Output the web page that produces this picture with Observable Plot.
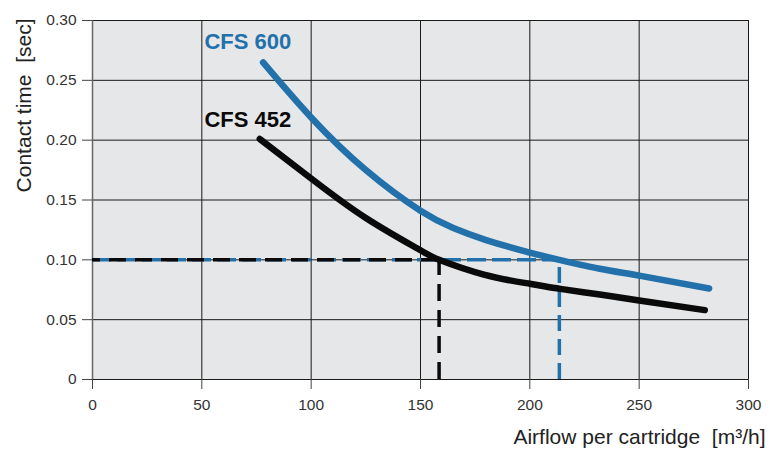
<!DOCTYPE html>
<html>
<head>
<meta charset="utf-8">
<script src="https://cdn.jsdelivr.net/npm/d3@7"></script>
<script src="https://cdn.jsdelivr.net/npm/@observablehq/plot@0.6"></script>
<style>
  html, body { margin: 0; padding: 0; background: #fff; }
  #chart { width: 770px; height: 449px; }
</style>
</head>
<body>
<div id="chart"></div>
<script>
// Tick values
const xTicks = [0, 50, 100, 150, 200, 250, 300];
const yTicks = [0, 0.05, 0.10, 0.15, 0.20, 0.25, 0.30];

// CFS 600 series (airflow m3/h, contact time sec)
const cfs600X = [78, 100, 125, 150, 165, 180, 200, 213.5, 232, 250, 282];
const cfs600Y = [0.265, 0.219, 0.175, 0.141, 0.1265, 0.1165, 0.106, 0.100, 0.0925, 0.0868, 0.0761];

// CFS 452 series
const cfs452X = [76.5, 100, 125, 150, 158.5, 179, 200, 214, 232, 250, 280];
const cfs452Y = [0.201, 0.168, 0.135, 0.108, 0.100, 0.0876, 0.080, 0.0757, 0.071, 0.066, 0.058];

// Reference (dashed) lines
const refContact = [0.10];
const refAirflow600 = [213.5];
const refAirflow452 = [158.5];

// Series labels
const seriesNames = ["CFS 600", "CFS 452"];
const labelX = [51.2, 51.2];
const labelY = [0.2765, 0.2112];

const titleX = "Airflow per cartridge\u00a0\u00a0[m\u00b3/h]";
const titleY = "Contact time\u00a0\u00a0[sec]";

const blue = "#2271aa";
const black = "#0a0a0a";

const s600 = cfs600X.map((x, i) => ({x, y: cfs600Y[i]}));
const s452 = cfs452X.map((x, i) => ({x, y: cfs452Y[i]}));
const labels = seriesNames.map((name, i) => ({name, x: labelX[i], y: labelY[i], color: i === 0 ? blue : black}));

const chart = Plot.plot({
  width: 770,
  height: 449,
  marginLeft: 92,
  marginRight: 22,
  marginTop: 20,
  marginBottom: 70,
  x: {domain: [0, 300]},
  y: {domain: [0, 0.30]},
  style: {fontFamily: "'Liberation Sans', Arial, sans-serif", fontSize: "15px", color: "#333", background: "#fff", overflow: "visible"},
  marks: [
    Plot.frame({fill: "#e6e7e9", stroke: "none"}),
    Plot.ruleX(xTicks, {stroke: "#1a1a1a", strokeWidth: 1}),
    Plot.ruleY(yTicks, {stroke: "#1a1a1a", strokeWidth: 1}),
    Plot.ruleX([0], {stroke: "#666", strokeWidth: 1.5}),
    Plot.axisX({ticks: xTicks, tickSize: 10, tickPadding: 9, label: null, tickFormat: d => String(d), stroke: "#444", fill: "#333", fontSize: 15.5}),
    Plot.axisY({ticks: yTicks, tickSize: 10, tickPadding: 6, label: null, tickFormat: d => d === 0 ? "0" : d.toFixed(2), stroke: "#444", fill: "#333", fontSize: 15.5}),
    // dashed reference lines
    Plot.ruleY(refContact, {x1: 0, x2: refAirflow600[0], stroke: blue, strokeWidth: 3.5, strokeDasharray: "19,6"}),
    Plot.ruleX(refAirflow600, {y1: 0, y2: refContact[0], stroke: blue, strokeWidth: 3.5, strokeDasharray: "16,8"}),
    Plot.ruleY(refContact, {x1: 0, x2: refAirflow452[0], stroke: black, strokeWidth: 3.5, strokeDasharray: "17,9", strokeDashoffset: 9}),
    Plot.ruleX(refAirflow452, {y1: 0, y2: refContact[0], stroke: black, strokeWidth: 3.5, strokeDasharray: "17,9"}),
    // curves
    Plot.line(s600, {x: "x", y: "y", stroke: blue, strokeWidth: 6.5, curve: "natural", strokeLinecap: "round"}),
    Plot.line(s452, {x: "x", y: "y", stroke: black, strokeWidth: 6.5, curve: "natural", strokeLinecap: "round"}),
    // series labels
    Plot.text(labels, {x: "x", y: "y", text: "name", fill: "color", textAnchor: "start", lineAnchor: "bottom", fontSize: 22, fontWeight: "bold"}),
    // axis titles
    Plot.text([titleX], {frameAnchor: "bottom-right", textAnchor: "end", lineAnchor: "middle", dx: 17, dy: 58, fontSize: 21, fill: "#222"}),
    Plot.text([titleY], {frameAnchor: "top-left", textAnchor: "end", lineAnchor: "middle", rotate: -90, dx: -68, dy: -2, fontSize: 21, fill: "#222"})
  ]
});
document.getElementById("chart").appendChild(chart);
</script>
</body>
</html>
